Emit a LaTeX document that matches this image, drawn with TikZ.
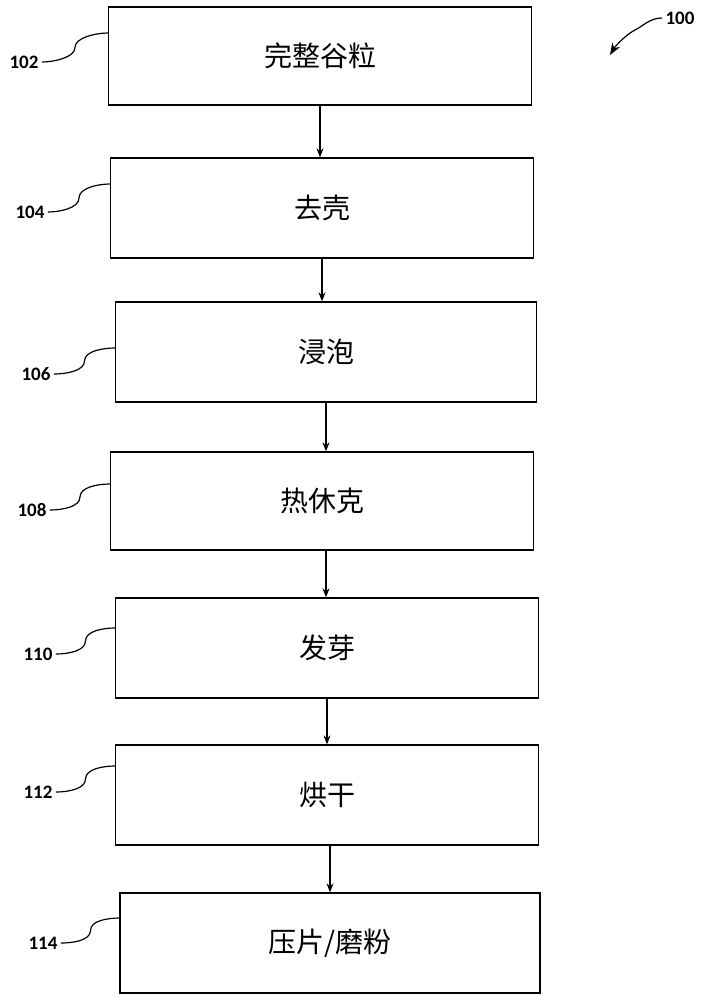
\documentclass[tikz,border=0pt]{standalone}
\usepackage{fontspec}
\setmainfont{Noto Sans CJK SC}
\newfontfamily\numfont{Carlito}
\usetikzlibrary{arrows.meta,calc}

\tikzset{
    stepbox/.style={rectangle, draw, line width=1.3pt, minimum width=423pt, minimum height=98pt, font=\fontsize{28}{30}\selectfont},
    reflabel/.style={font=\numfont\bfseries\fontsize{19}{20}\selectfont},
    flow/.style={-{Stealth[length=9pt,width=7pt]}, line width=1.2pt},
    leader/.style={line width=1.2pt}
}

\begin{document}
\begin{tikzpicture}[x=1pt,y=-1pt]
    \useasboundingbox (0,0) rectangle (706,1000);

    % process steps
    \node (grain) [stepbox] at (320,56) {完整谷粒};
    \node (dehull) [stepbox, minimum height=100pt] at (322,208) {去壳};
    \node (steep) [stepbox, minimum width=421pt, minimum height=100pt] at (326,352) {浸泡};
    \node (shock) [stepbox] at (322,501) {热休克};
    \node (sprout) [stepbox, minimum height=100pt] at (327,648) {发芽};
    \node (dry) [stepbox, minimum height=100pt] at (327,795) {烘干};
    \node (mill) [stepbox, minimum width=420pt, minimum height=100pt] at (330,943) {压片/磨粉};

    \draw[flow] (grain.south) -- (grain.south |- dehull.north);
    \draw[flow] (dehull.south) -- (dehull.south |- steep.north);
    \draw[flow] (steep.south) -- (steep.south |- shock.north);
    \draw[flow] (shock.south) ++(4,0) coordinate (s4) -- (s4 |- sprout.north);
    \draw[flow] (sprout.south) -- (sprout.south |- dry.north);
    \draw[flow] (dry.south) ++(3,0) coordinate (s6) -- (s6 |- mill.north);

    % reference numerals
    \node (l102) [reflabel] at (24,62) {102};
    \node (l104) [reflabel] at (30,212) {104};
    \node (l106) [reflabel] at (36,374) {106};
    \node (l108) [reflabel] at (32,510) {108};
    \node (l110) [reflabel] at (38,654) {110};
    \node (l112) [reflabel] at (38,792) {112};
    \node (l114) [reflabel] at (43,943) {114};

    \coordinate (t102) at (108,33);
    \coordinate (t104) at (110,184);
    \coordinate (t106) at (115,348);
    \coordinate (t108) at (110,484);
    \coordinate (t110) at (115,628);
    \coordinate (t112) at (115,766);
    \coordinate (t114) at (120,918);

    \foreach \n in {102,104,106,108,110,112,114}
        \draw[leader] (l\n.east) .. controls +(12,0) and +(0,10) .. ($(l\n.east)!0.5!(t\n)$) .. controls +(0,-10) and +(-12,0) .. (t\n);

    \node (l100) [reflabel] at (680,18) {100};
    \coordinate (a100) at (610,55);
    \draw[leader, -{Stealth[length=12pt,width=9pt]}] (l100.west) .. controls +(-12,0) and +(8,-4) .. (635,30) .. controls +(-8,4) and +(6,-10) .. (a100);
\end{tikzpicture}
\end{document}
